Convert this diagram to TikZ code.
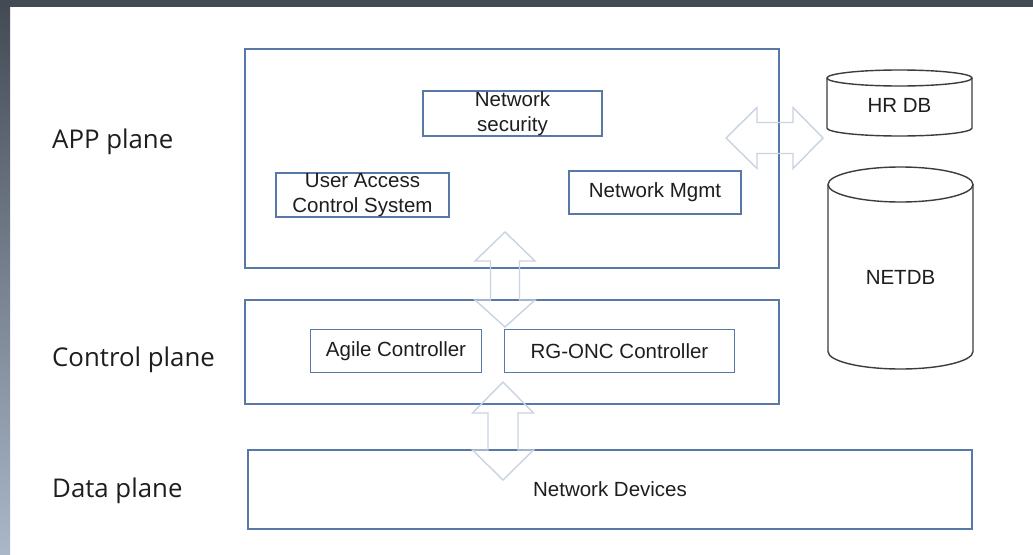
\documentclass[tikz,border=0pt]{standalone}
\usepackage{fontspec}
\setmainfont{Liberation Sans}
\newfontfamily\planefont{Open Sans}
\definecolor{boxblue}{HTML}{5878A8}
\definecolor{arrowgray}{HTML}{C9D3E2}
\definecolor{dbline}{HTML}{3C3C3C}
\definecolor{bardark}{HTML}{444A54}
\definecolor{barlight}{HTML}{A9B7C9}
\definecolor{txt}{HTML}{1E1E1E}
\begin{document}
\begin{tikzpicture}[x=1pt,y=-1pt,
  plane/.style={draw=boxblue,line width=1.2pt,inner sep=0pt},
  box/.style={draw=boxblue,line width=1.2pt,font=\fontsize{20.5}{25.5}\selectfont,
    text=txt,align=center,inner sep=0pt},
  lbl/.style={font=\planefont\fontsize{25.8}{30}\selectfont,text=txt,anchor=base west,inner sep=0pt},
  barrow/.style={draw=arrowgray,line width=1.4pt,line join=miter},
  db/.style={draw=dbline,line width=1.4pt},
  dbtext/.style={font=\fontsize{20.5}{25.5}\selectfont,text=txt,inner sep=0pt}]
\useasboundingbox (0,0) rectangle (1033,554);
\fill[white] (0,0) rectangle (1033,554);
\shade[top color=bardark,bottom color=barlight] (0,0) rectangle (10,554);
\fill[bardark] (0,0) rectangle (1033,7);

% plane labels
\node[lbl] (lapp) at (52,148) {APP plane};
\node[lbl] (lctl) at (52,366.5) {Control plane};
\node[lbl] (ldat) at (52,497) {Data plane};

% plane boxes
\node[plane,minimum width=534pt,minimum height=219pt] (app) at (512,158.5) {};
\node[plane,minimum width=534pt,minimum height=104pt] (ctl) at (512,352) {};
\node[box,minimum width=724pt,minimum height=79pt] (dat) at (610,489.5) {Network Devices};

% block arrows
\draw[barrow] (505,232) -- (535,261) -- (519.5,261) -- (519.5,300) -- (535,300)
  -- (505,327) -- (475,300) -- (490.5,300) -- (490.5,261) -- (475,261) -- cycle;
\draw[barrow] (503,382) -- (533.5,413) -- (518,413) -- (518,450) -- (533.5,450)
  -- (503,480) -- (472.5,450) -- (488,450) -- (488,413) -- (472.5,413) -- cycle;
\draw[barrow] (726,138) -- (757,107.5) -- (757,122.5) -- (793,122.5) -- (793,107.5)
  -- (823,138) -- (793,168.5) -- (793,153.5) -- (757,153.5) -- (757,168.5) -- cycle;

% inner boxes
\node[box,minimum width=179pt,minimum height=45pt] (sec) at (512.5,113.5) {Network\\security};
\node[box,minimum width=173pt,minimum height=44pt] (uac) at (362.5,195) {User Access\\Control System};
\node[box,minimum width=172pt,minimum height=43pt] (mgmt) at (655,192.5) {Network Mgmt};
\node[box,minimum width=171pt,minimum height=43pt] (agile) at (396,351) {Agile Controller};
\node[box,minimum width=230pt,minimum height=43pt] (onc) at (619.5,351) {RG-ONC Controller};

% databases
\draw[db] (899.5,78) ellipse [x radius=72.5, y radius=8];
\draw[db] (827,78) -- (827,128) arc[start angle=180,end angle=0,x radius=72.5,y radius=8] -- (972,78);
\node[dbtext] (hrdb) at (899.5,105) {HR DB};

\draw[db] (900.5,184.5) ellipse [x radius=72.5, y radius=17.5];
\draw[db] (828,184.5) -- (828,351.5) arc[start angle=180,end angle=0,x radius=72.5,y radius=17.5] -- (973,184.5);
\node[dbtext] (netdb) at (900.5,277) {NETDB};
\end{tikzpicture}
\end{document}
